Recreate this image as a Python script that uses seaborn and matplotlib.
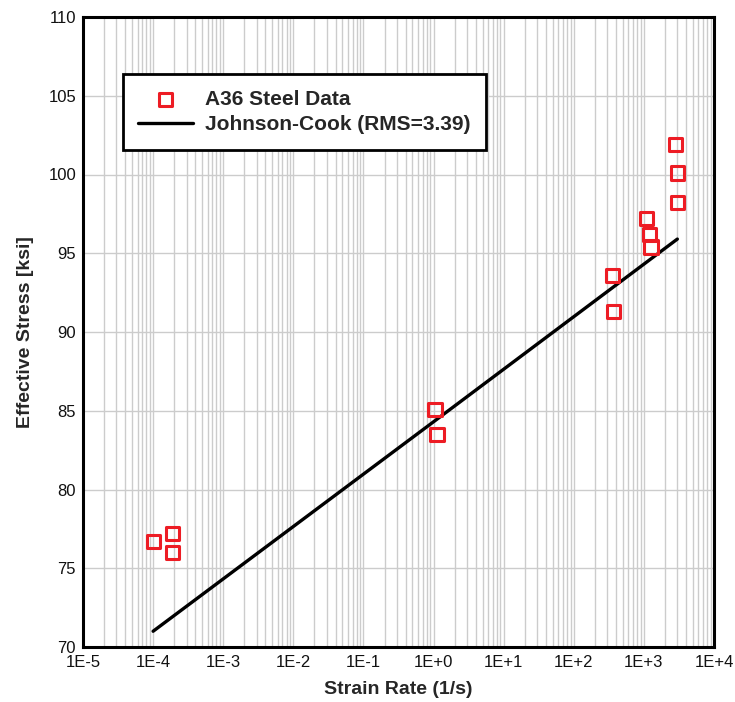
import numpy as np
import pandas as pd
import matplotlib
matplotlib.use("Agg")
import matplotlib.pyplot as plt
import seaborn as sns
from matplotlib.ticker import LogLocator, FixedLocator, FixedFormatter, NullFormatter

# A36 steel test points
strain_rate = [1.0e-4, 1.9e-4, 1.9e-4, 1.05, 1.12, 355, 365, 1100, 1200, 1260, 2800, 3000, 3000]
stress_ksi = [76.7, 77.2, 76.0, 85.1, 83.5, 93.6, 91.3, 97.2, 96.2, 95.4, 101.9, 100.1, 98.2]

# Johnson-Cook fit line
jc_rate = [1.0e-4, 1.0, 3000]
jc_stress = [71.0, 84.3, 95.9]

x_ticks = [1e-5, 1e-4, 1e-3, 1e-2, 1e-1, 1e0, 1e1, 1e2, 1e3, 1e4]
x_labels = ["1E-5", "1E-4", "1E-3", "1E-2", "1E-1", "1E+0", "1E+1", "1E+2", "1E+3", "1E+4"]
y_ticks = [70, 75, 80, 85, 90, 95, 100, 105, 110]

data = pd.DataFrame({"rate": strain_rate, "stress": stress_ksi})
fit = pd.DataFrame({"rate": jc_rate, "stress": jc_stress})

sns.set_theme(style="white")
plt.rcParams['font.family'] = ['Liberation Sans', 'DejaVu Sans']

red = '#ED1C24'

fig = plt.figure(figsize=(7.35, 7.02), dpi=100)
ax = fig.add_axes([83/735, 1 - 647/702, 631/735, 630/702])
ax.set_xscale('log')

ax.set_xlim(1e-5, 1e4)
ax.set_ylim(70, 110)

ax.xaxis.set_major_locator(FixedLocator(x_ticks))
ax.xaxis.set_major_formatter(FixedFormatter(x_labels))
ax.xaxis.set_minor_locator(LogLocator(base=10, subs=np.arange(2, 10), numticks=100))
ax.xaxis.set_minor_formatter(NullFormatter())
ax.set_yticks(y_ticks)

ax.grid(True, which='both', axis='x', color='#cccccc', linewidth=1.0)
ax.grid(True, which='major', axis='y', color='#cccccc', linewidth=1.0)
ax.set_axisbelow(True)

sns.scatterplot(data=data, x="rate", y="stress", marker='s', s=90,
                facecolor='none', edgecolor=red, linewidth=2.2,
                label="A36 Steel Data", ax=ax, zorder=3)
sns.lineplot(data=fit, x="rate", y="stress", color='black', linewidth=2.4,
             estimator=None, label="Johnson-Cook (RMS=3.39)", ax=ax, zorder=2)

ax.tick_params(axis='both', which='both', length=0, labelsize=12, labelcolor='#111111')
ax.tick_params(axis='x', pad=6)
ax.tick_params(axis='y', pad=5)

for s in ax.spines.values():
    s.set_color('black')
    s.set_linewidth(2.2)

ax.set_xlabel("Strain Rate (1/s)", fontsize=14, fontweight='bold', labelpad=8)
ax.set_ylabel("Effective Stress [ksi]", fontsize=14, fontweight='bold', labelpad=10)

leg = ax.legend(loc='upper left', bbox_to_anchor=(0.063, 0.9095), borderaxespad=0,
                fancybox=False, framealpha=1, edgecolor='black',
                prop={'weight': 'bold', 'size': 15}, handlelength=2.6,
                handletextpad=0.6, borderpad=0.75, labelspacing=0.3)
leg.get_frame().set_linewidth(2.0)

plt.savefig('out.png', dpi=100)
